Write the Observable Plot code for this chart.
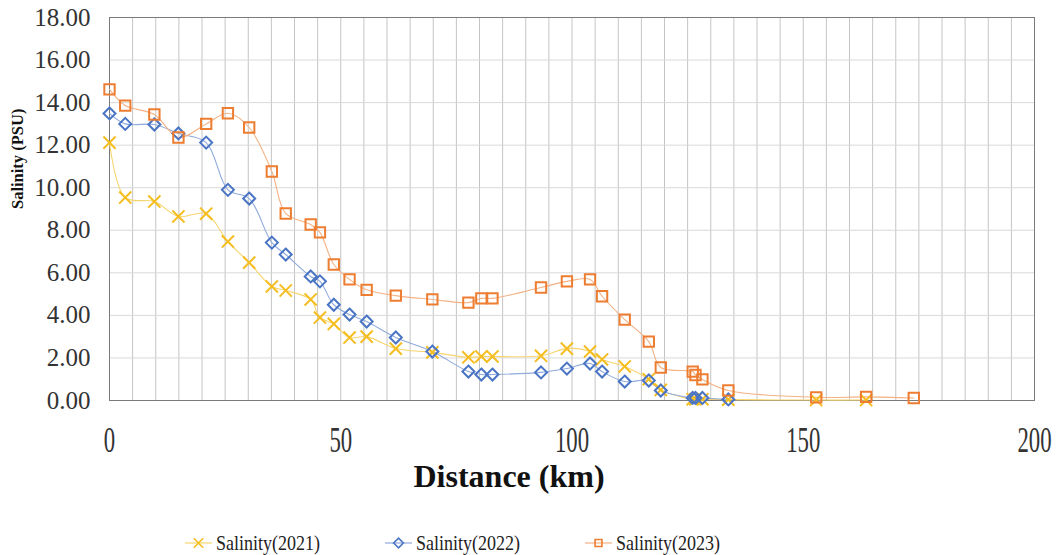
<!DOCTYPE html>
<html>
<head>
<meta charset="utf-8">
<script src="https://cdn.jsdelivr.net/npm/d3@7"></script>
<script src="https://cdn.jsdelivr.net/npm/@observablehq/plot@0.6"></script>
<style>
  body { margin: 0; background: #fff; }
  #chart { width: 1056px; }
  svg { display: block; }
</style>
</head>
<body>
<div id="chart"></div>
<script>
// Station distances (km) shared by all surveys
const distance = [0, 3.4, 9.7, 14.9, 20.9, 25.6, 30.2, 35.1, 38.1, 43.5, 45.5, 48.5, 51.9, 55.6, 61.9, 69.8, 77.6, 80.4, 82.8, 93.3, 98.9, 103.9, 106.5, 111.4, 116.6, 119.2, 126.1, 126.7, 128.2, 133.8, 152.8, 163.6, 173.9];
// Salinity (PSU) per survey year; null = not sampled
const sal2021 = [12.12, 9.54, 9.35, 8.65, 8.78, 7.47, 6.48, 5.36, 5.17, 4.75, 3.9, 3.6, 2.96, 3.0, 2.44, 2.26, 2.03, 2.07, 2.07, 2.1, 2.44, 2.3, 1.93, 1.6, 1.0, 0.5, 0.06, 0.06, 0.06, 0.04, 0.02, 0.02, null];
const sal2022 = [13.49, 13.0, 12.97, 12.55, 12.12, 9.9, 9.49, 7.42, 6.86, 5.83, 5.6, 4.5, 4.04, 3.71, 2.96, 2.3, 1.36, 1.22, 1.22, 1.32, 1.5, 1.74, 1.36, 0.89, 0.94, 0.47, 0.12, 0.12, 0.12, 0.05, null, null, null];
const sal2023 = [14.62, 13.86, 13.44, 12.36, 13.0, 13.5, 12.83, 10.76, 8.79, 8.27, 7.9, 6.39, 5.69, 5.2, 4.93, 4.75, 4.6, 4.8, 4.8, 5.31, 5.6, 5.69, 4.9, 3.8, 2.77, 1.55, 1.36, 1.2, 0.99, 0.47, 0.15, 0.17, 0.12];

const seriesNames = ["Salinity(2021)", "Salinity(2022)", "Salinity(2023)"];
const seriesValues = [sal2021, sal2022, sal2023];
const xTicks = [0, 50, 100, 150, 200];
const xGridTicks = [0,5,10,15,20,25,30,35,40,45,50,55,60,65,70,75,80,85,90,95,100,105,110,115,120,125,130,135,140,145,150,155,160,165,170,175,180,185,190,195,200];
const yTicks = [0, 2, 4, 6, 8, 10, 12, 14, 16, 18];
const xTitle = "Distance (km)";
const yTitle = "Salinity (PSU)";

// styles
const lineColors = ["#f7d56e", "#8faadc", "#f4b183"];
const markColors = ["#f5bd1f", "#4a74c4", "#ed7d31"];
const plotSymbols = ["times", "diamond2", "square2"];
const d3Symbols = [d3.symbolTimes, d3.symbolDiamond2, d3.symbolSquare2];
const symbolR = [5.6, 5.4, 6.6];

function rows(vals) {
  return distance.map((d, i) => ({distance: d, value: vals[i]})).filter(r => r.value != null);
}

const marks = [
  Plot.gridX(xGridTicks, {stroke: "#c4c4c4", strokeOpacity: 1}),
  Plot.gridY(yTicks, {stroke: "#d9d9d9", strokeOpacity: 1}),
  Plot.frame({stroke: "#7a7a7a"}),
  Plot.axisY(yTicks, {tickFormat: d3.format(".2f"), tickSize: 0, tickPadding: 19, fontSize: 25, fill: "#333", label: null}),
  Plot.axisX(xTicks, {tickSize: 0, tickPadding: 27, fontSize: 35, fill: "#333", label: null}),
  Plot.text([yTitle], {frameAnchor: "left", dx: -92, rotate: -90, fontSize: 16.5, fontWeight: "bold", fill: "#111", ariaLabel: "y-title"}),
  Plot.text([xTitle], {frameAnchor: "bottom", dx: -63, dy: 86, fontSize: 32, fontWeight: "bold", fill: "#111", ariaLabel: "x-title"})
];

seriesValues.forEach((vals, k) => {
  const data = rows(vals);
  marks.push(Plot.line(data, {x: "distance", y: "value", curve: "catmull-rom", stroke: lineColors[k], strokeWidth: 1.1}));
});
seriesValues.forEach((vals, k) => {
  const data = rows(vals);
  marks.push(Plot.dot(data, {x: "distance", y: "value", symbol: plotSymbols[k], r: symbolR[k], stroke: markColors[k], strokeWidth: 2, fill: "none"}));
});

const chart = Plot.plot({
  width: 1056,
  height: 510,
  marginTop: 17,
  marginBottom: 110,
  marginLeft: 109,
  marginRight: 22,
  style: {fontFamily: "'Liberation Serif', 'Times New Roman', serif", background: "white"},
  x: {domain: [0, 200], label: null},
  y: {domain: [0, 18], label: null},
  marks
});
document.getElementById("chart").append(chart);

function condenseNodes(nodes, ratio, fixed) {
  nodes.forEach(t => {
    const L = fixed != null ? fixed : t.getComputedTextLength() * ratio;
    t.setAttribute("textLength", L);
    t.setAttribute("lengthAdjust", "spacingAndGlyphs");
  });
}
const xTickLabels = Array.from(chart.querySelectorAll("text"))
  .filter(t => xTicks.map(String).includes(t.textContent.trim()) && +t.closest("g").getAttribute("font-size") === 35);
condenseNodes(xTickLabels.length ? xTickLabels : Array.from(chart.querySelectorAll('g[aria-label="x-axis tick label"] text')), 0.65);
condenseNodes(chart.querySelectorAll('g[aria-label="x-title"] text'), null, 152);
condenseNodes(chart.querySelectorAll('g[aria-label="y-title"] text'), null, 130);

// Legend below the chart
const leg = d3.create("svg").attr("width", 1056).attr("height", 45)
  .style("font-family", "'Liberation Serif', 'Times New Roman', serif");
const legX = [185, 385, 585];
seriesNames.forEach((name, k) => {
  const g = leg.append("g").attr("transform", `translate(${legX[k]},33)`);
  g.append("line").attr("x1", 0).attr("x2", 27).attr("y1", 0).attr("y2", 0)
    .attr("stroke", lineColors[k]).attr("stroke-width", 1.2);
  g.append("path").attr("transform", "translate(13.5,0)")
    .attr("d", d3.symbol(d3Symbols[k], 60)())
    .attr("fill", "none").attr("stroke", markColors[k]).attr("stroke-width", 1.6);
  g.append("text").attr("x", 31).attr("y", 0).attr("dy", "0.34em")
    .attr("font-size", 21).attr("fill", "#222")
    .attr("textLength", 104).attr("lengthAdjust", "spacingAndGlyphs")
    .text(name);
});
document.getElementById("chart").append(leg.node());
</script>
</body>
</html>
